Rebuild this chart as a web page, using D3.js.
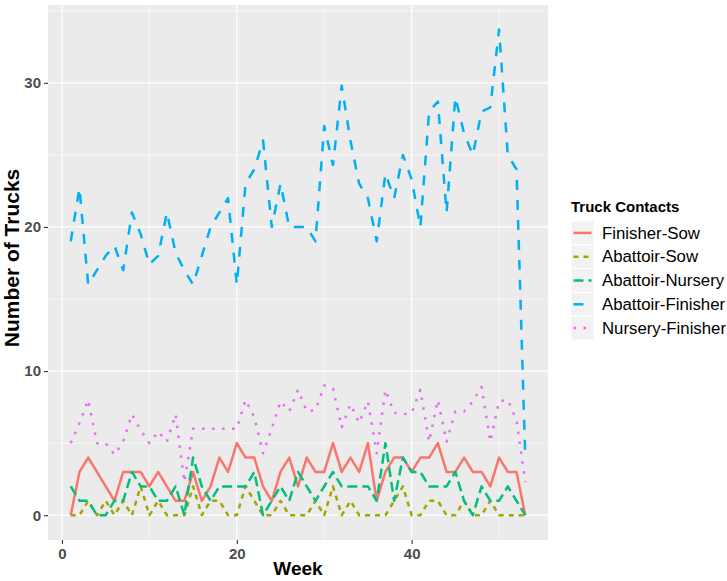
<!DOCTYPE html>
<html>
<head>
<meta charset="utf-8">
<script src="https://cdnjs.cloudflare.com/ajax/libs/d3/7.8.5/d3.min.js"></script>
<style>
body { margin: 0; background: #fff; }
</style>
</head>
<body>
<div class="chart"></div>
<script>

var weeks = [1,2,3,4,5,6,7,8,9,10,11,12,13,14,15,16,17,18,19,20,21,22,23,24,25,26,27,
             28,29,30,31,32,33,34,35,36,37,38,39,40,41,42,43,44,45,46,47,48,49,50,51,52,53];

var finisherSow = [0,3,4,3,2,1,3,3,3,2,3,2,1,1,3,1,2,4,3,5,4,4,2,1,3,4,2,
                   4,3,3,5,3,4,3,5,1,3,4,4,3,4,4,5,3,3,4,3,3,2,4,3,3,0];
var abattoirSow = [0,0,1,0,1,0,1,0,2,0,1,0,0,0,2,0,1,1,0,0,2,1,0,0,1,0,0,
                   0,1,0,2,0,1,0,0,0,0,1,2,0,0,1,1,0,0,1,0,0,1,0,0,0,0];
var abattoirNursery = [2,1,1,0,0,1,1,3,2,2,1,1,2,0,4,2,1,2,2,2,2,3,0,1,2,1,3,
                       2,1,2,3,2,2,2,2,1,5,1,4,3,3,2,2,2,3,1,0,2,1,1,2,1,0];
var abattoirFinisher = [19,22.7,16,17,18,18.7,17,21,19.5,17.4,18,21,18.2,17,16,18,20,21,22,16,23,24,26,20,23,20,20,
                        20,19,27,24.3,29.8,26,23,22,19,23.7,22,25,23.3,20,28,28.7,21,29,26.5,25,28,28.3,33.7,25,24,4];
var nurseryFinisher = [5,6.4,8,5,5,4.2,5.1,7,5.9,5,5.8,5.1,7,2.3,6,6,6,6,6,6,8,6.8,4.3,6,7.9,7.2,8.7,
                       7.2,7.3,9,8.8,6.1,7.7,6.4,7.9,4.3,8.7,7.1,7,7.1,8.7,5.1,8,5.1,7.2,7.2,7.9,8.9,5.1,7.9,8,6.6,2.3];

var seriesNames = ["Finisher-Sow", "Abattoir-Sow", "Abattoir-Nursery", "Abattoir-Finisher", "Nursery-Finisher"];
var seriesValues = [finisherSow, abattoirSow, abattoirNursery, abattoirFinisher, nurseryFinisher];
var seriesColors = ["#F8766D", "#A3A500", "#00BF7D", "#00B0F6", "#E76BF3"];
var seriesDash = ["none", "5,5", "10,5", "10,10", "2.5,7.5"];

var xTicks = [0, 20, 40];
var xMinor = [10, 30, 50];
var yTicks = [0, 10, 20, 30];
var yMinor = [5, 15, 25, 35];

var w = 727, h = 581;
var panel = {left: 48, right: 548, top: 5, bottom: 540};
var font = "'Liberation Sans', Arial, sans-serif";

var svg = d3.select("div.chart").append("svg")
            .attr("width", w)
            .attr("height", h);

svg.append("rect").attr("width", w).attr("height", h).attr("fill", "#fff");

var x = d3.scaleLinear()
          .domain([-1.6, 55.6])
          .range([panel.left, panel.right]);

var y = d3.scaleLinear()
          .domain([-1.72, 35.4])
          .range([panel.bottom, panel.top]);

// panel background + grid
svg.append("rect")
   .attr("x", panel.left).attr("y", panel.top)
   .attr("width", panel.right - panel.left)
   .attr("height", panel.bottom - panel.top)
   .attr("fill", "#EBEBEB");

var grid = svg.append("g");
grid.selectAll("line.ymin").data(yMinor).enter().append("line")
    .attr("x1", panel.left).attr("x2", panel.right)
    .attr("y1", function(d){ return y(d); }).attr("y2", function(d){ return y(d); })
    .attr("stroke", "#fff").attr("stroke-width", 0.6);
grid.selectAll("line.xmin").data(xMinor).enter().append("line")
    .attr("y1", panel.top).attr("y2", panel.bottom)
    .attr("x1", function(d){ return x(d); }).attr("x2", function(d){ return x(d); })
    .attr("stroke", "#fff").attr("stroke-width", 0.6);
grid.selectAll("line.ymaj").data(yTicks).enter().append("line")
    .attr("x1", panel.left).attr("x2", panel.right)
    .attr("y1", function(d){ return y(d); }).attr("y2", function(d){ return y(d); })
    .attr("stroke", "#fff").attr("stroke-width", 1.2);
grid.selectAll("line.xmaj").data(xTicks).enter().append("line")
    .attr("y1", panel.top).attr("y2", panel.bottom)
    .attr("x1", function(d){ return x(d); }).attr("x2", function(d){ return x(d); })
    .attr("stroke", "#fff").attr("stroke-width", 1.2);

// series
var line = d3.line()
  .x(function(d, i){ return x(weeks[i]); })
  .y(function(d){ return y(d); });

seriesValues.forEach(function(vals, k){
  svg.append("path")
     .attr("fill", "none")
     .attr("stroke", seriesColors[k])
     .attr("stroke-width", 2.5)
     .attr("stroke-dasharray", seriesDash[k])
     .attr("stroke-linejoin", "round")
     .attr("d", line(vals));
});

// axes
var xAxis = d3.axisBottom(x).tickValues(xTicks).tickSize(4).tickPadding(4);
var yAxis = d3.axisLeft(y).tickValues(yTicks).tickSize(4).tickPadding(3);

var gx = svg.append("g")
   .attr("transform", "translate(0," + panel.bottom + ")")
   .call(xAxis);
var gy = svg.append("g")
   .attr("transform", "translate(" + panel.left + ",0)")
   .call(yAxis);

[gx, gy].forEach(function(g){
  g.select(".domain").remove();
  g.selectAll(".tick line").attr("stroke", "#333").attr("stroke-width", 1.1);
  g.selectAll(".tick text")
   .attr("fill", "#4D4D4D")
   .style("font-family", font)
   .style("font-size", "15px")
   .style("font-weight", "bold");
});

svg.append("text")
   .attr("x", (panel.left + panel.right) / 2)
   .attr("y", 575)
   .attr("text-anchor", "middle")
   .style("font-family", font)
   .style("font-size", "19px")
   .style("font-weight", "bold")
   .text("Week");

svg.append("text")
   .attr("transform", "translate(19,258) rotate(-90)")
   .attr("text-anchor", "middle")
   .style("font-family", font)
   .style("font-size", "21px")
   .style("font-weight", "bold")
   .text("Number of Trucks");

// legend
var legend = svg.append("g").attr("transform", "translate(571,221)");
legend.append("text")
   .attr("x", 0).attr("y", -9)
   .style("font-family", font)
   .style("font-size", "15px")
   .style("font-weight", "bold")
   .text("Truck Contacts");

var keys = legend.selectAll("g.key").data(seriesNames).enter().append("g")
   .attr("transform", function(d, i){ return "translate(0," + (i * 23.8) + ")"; });

keys.append("rect")
   .attr("width", 23).attr("height", 23.8)
   .attr("fill", "#F2F2F2")
   .attr("stroke", "#fff").attr("stroke-width", 1);

keys.append("line")
   .attr("x1", 2.5).attr("x2", 20.5)
   .attr("y1", 11.9).attr("y2", 11.9)
   .attr("stroke", function(d, i){ return seriesColors[i]; })
   .attr("stroke-width", 2.5)
   .attr("stroke-dasharray", function(d, i){ return seriesDash[i]; });

keys.append("text")
   .attr("x", 31).attr("y", 17.5)
   .style("font-family", font)
   .style("font-size", "16.8px")
   .attr("fill", "#000")
   .text(function(d){ return d; });

</script>
</body>
</html>
